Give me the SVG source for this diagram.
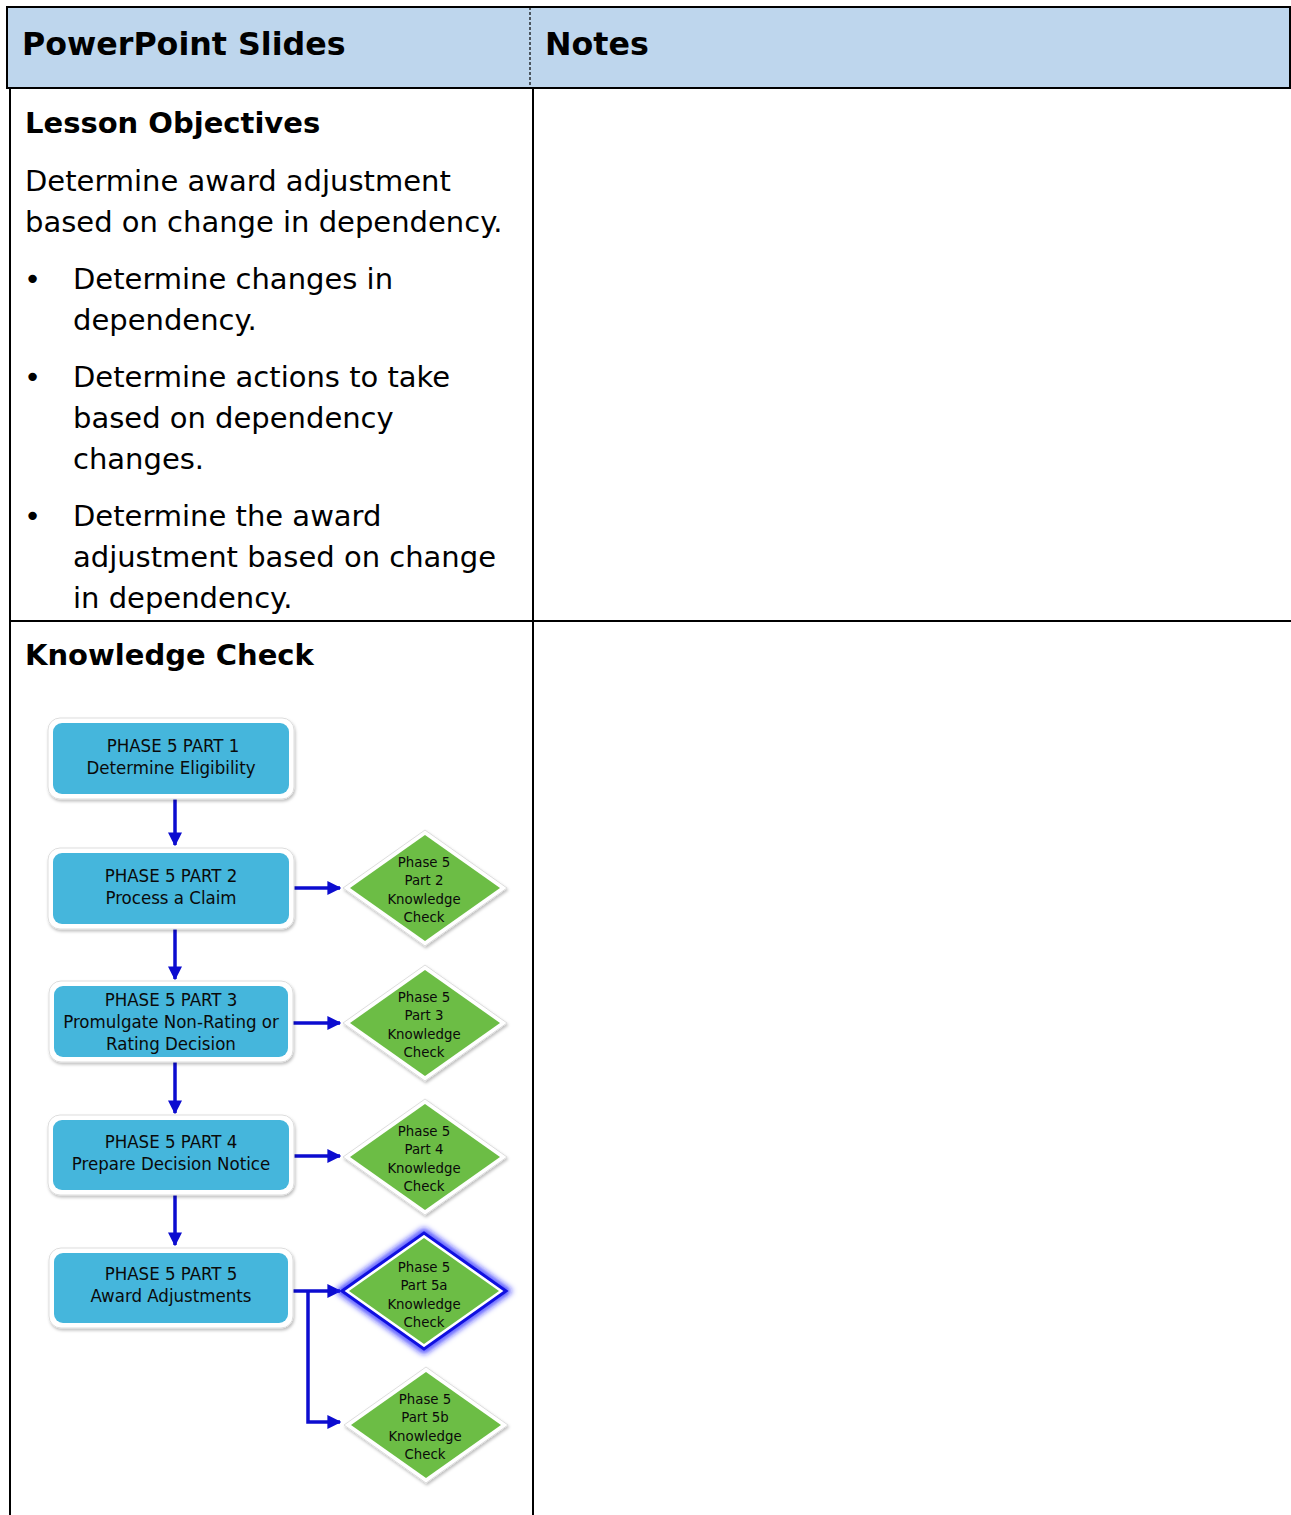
<svg xmlns="http://www.w3.org/2000/svg" width="1291" height="1515" viewBox="0 0 1291 1515">
<style>
.hd{font-family:"DejaVu Sans",Verdana,sans-serif;font-weight:bold;font-size:31.7px;fill:#000}
.bh{font-family:"DejaVu Sans",Verdana,sans-serif;font-weight:bold;font-size:29px;fill:#000}
.bt{font-family:"DejaVu Sans",Verdana,sans-serif;font-size:29px;fill:#000}
.bx{font-family:"DejaVu Sans Condensed","DejaVu Sans",sans-serif;font-size:18.5px;fill:#0a0a0a;text-anchor:middle}
.dm{font-family:"DejaVu Sans Condensed","DejaVu Sans",sans-serif;font-size:14.8px;fill:#0a0a0a;text-anchor:middle}
.tl{stroke:#000;stroke-width:2;fill:none}
.outer{fill:#fff;stroke:#ddd;stroke-width:1}
.blue{fill:#45b6dc}
.green{fill:#6cbd45}
.con{stroke:#0c0cd0;stroke-width:3.5;fill:none}
</style>
<defs>
<marker id="ah" viewBox="0 0 10 10" refX="9" refY="5" markerWidth="4" markerHeight="4" orient="auto" markerUnits="strokeWidth">
<path d="M0,0 L10,5 L0,10 z" fill="#0c0cd0"/>
</marker>
<filter id="sh" x="-10%" y="-10%" width="125%" height="130%">
<feDropShadow dx="1" dy="2" stdDeviation="1.5" flood-color="#000" flood-opacity="0.25"/>
</filter>
<filter id="glow" x="-20%" y="-20%" width="140%" height="140%">
<feGaussianBlur stdDeviation="3"/>
</filter>
</defs>
<rect width="1291" height="1515" fill="#fff"/>
<g id="table">
<rect x="7" y="7" width="1283" height="81" fill="#bed6ed" stroke="#000" stroke-width="2"/>
<line x1="530" y1="7" x2="530" y2="88" stroke="#000" stroke-width="1.2" stroke-dasharray="3,2"/>
<line class="tl" x1="10" y1="88" x2="10" y2="1515"/>
<line class="tl" x1="533" y1="88" x2="533" y2="1515"/>
<line class="tl" x1="10" y1="621" x2="1291" y2="621"/>
<text class="hd" x="22" y="55">PowerPoint Slides</text>
<text class="hd" x="545" y="55">Notes</text>
</g>
<g id="objectives">
<text class="bh" x="25" y="133">Lesson Objectives</text>
<text class="bt" x="25" y="191">Determine award adjustment</text>
<text class="bt" x="25" y="232">based on change in dependency.</text>
<text class="bt" x="24" y="289">•</text>
<text class="bt" x="73" y="289">Determine changes in</text>
<text class="bt" x="73" y="330">dependency.</text>
<text class="bt" x="24" y="387">•</text>
<text class="bt" x="73" y="387">Determine actions to take</text>
<text class="bt" x="73" y="428">based on dependency</text>
<text class="bt" x="73" y="469">changes.</text>
<text class="bt" x="24" y="526">•</text>
<text class="bt" x="73" y="526">Determine the award</text>
<text class="bt" x="73" y="567">adjustment based on change</text>
<text class="bt" x="73" y="608">in dependency.</text>
<text class="bh" x="25" y="665">Knowledge Check</text>
</g>
<g id="connectors">
<line class="con" x1="175" y1="799" x2="175" y2="845" marker-end="url(#ah)"/>
<line class="con" x1="294" y1="888" x2="340" y2="888" marker-end="url(#ah)"/>
<line class="con" x1="175" y1="928" x2="175" y2="979" marker-end="url(#ah)"/>
<line class="con" x1="292" y1="1023" x2="340" y2="1023" marker-end="url(#ah)"/>
<line class="con" x1="175" y1="1062" x2="175" y2="1113" marker-end="url(#ah)"/>
<line class="con" x1="294" y1="1156" x2="340" y2="1156" marker-end="url(#ah)"/>
<line class="con" x1="175" y1="1195" x2="175" y2="1245" marker-end="url(#ah)"/>
<line class="con" x1="292" y1="1291" x2="340" y2="1291" marker-end="url(#ah)"/>
<polyline class="con" points="308,1291 308,1422 340,1422" marker-end="url(#ah)"/>
</g>
<g id="p1">
<rect class="outer" x="48" y="718" width="246" height="81" rx="12" filter="url(#sh)"/>
<rect class="blue" x="53" y="723" width="236" height="71" rx="9"/>
<text class="bx" x="173" y="752">PHASE 5 PART 1</text>
<text class="bx" x="171" y="774">Determine Eligibility</text>
</g>
<g id="p2">
<rect class="outer" x="48" y="848" width="246" height="81" rx="12" filter="url(#sh)"/>
<rect class="blue" x="53" y="853" width="236" height="71" rx="9"/>
<text class="bx" x="171" y="882">PHASE 5 PART 2</text>
<text class="bx" x="171" y="904">Process a Claim</text>
</g>
<g id="p3">
<rect class="outer" x="49" y="981" width="244" height="81" rx="12" filter="url(#sh)"/>
<rect class="blue" x="54" y="986" width="234" height="71" rx="9"/>
<text class="bx" x="171" y="1006">PHASE 5 PART 3</text>
<text class="bx" x="171" y="1028">Promulgate Non-Rating or</text>
<text class="bx" x="171" y="1050">Rating Decision</text>
</g>
<g id="p4">
<rect class="outer" x="48" y="1115" width="246" height="80" rx="12" filter="url(#sh)"/>
<rect class="blue" x="53" y="1120" width="236" height="70" rx="9"/>
<text class="bx" x="171" y="1148">PHASE 5 PART 4</text>
<text class="bx" x="171" y="1170">Prepare Decision Notice</text>
</g>
<g id="p5">
<rect class="outer" x="49" y="1248" width="244" height="80" rx="12" filter="url(#sh)"/>
<rect class="blue" x="54" y="1253" width="234" height="70" rx="9"/>
<text class="bx" x="171" y="1280">PHASE 5 PART 5</text>
<text class="bx" x="171" y="1302">Award Adjustments</text>
</g>
<g id="kc2">
<path class="outer" d="M343,888 L425,830 L507,888 L425,946 Z" filter="url(#sh)"/>
<path class="green" d="M350,888 L425,835 L500,888 L425,941 Z"/>
<text class="dm" x="424" y="867">Phase 5</text>
<text class="dm" x="424" y="885">Part 2</text>
<text class="dm" x="424" y="904">Knowledge</text>
<text class="dm" x="424" y="922">Check</text>
</g>
<g id="kc3">
<path class="outer" d="M343,1023 L425,965 L507,1023 L425,1081 Z" filter="url(#sh)"/>
<path class="green" d="M350,1023 L425,970 L500,1023 L425,1076 Z"/>
<text class="dm" x="424" y="1002">Phase 5</text>
<text class="dm" x="424" y="1020">Part 3</text>
<text class="dm" x="424" y="1039">Knowledge</text>
<text class="dm" x="424" y="1057">Check</text>
</g>
<g id="kc4">
<path class="outer" d="M343,1157 L425,1099 L507,1157 L425,1215 Z" filter="url(#sh)"/>
<path class="green" d="M350,1157 L425,1104 L500,1157 L425,1210 Z"/>
<text class="dm" x="424" y="1136">Phase 5</text>
<text class="dm" x="424" y="1154">Part 4</text>
<text class="dm" x="424" y="1173">Knowledge</text>
<text class="dm" x="424" y="1191">Check</text>
</g>
<g id="kc5a">
<path d="M341,1291 L424,1232 L507,1291 L424,1350 Z" fill="none" stroke="#1a1aff" stroke-width="6" filter="url(#glow)"/>
<path d="M342,1291 L424,1233 L506,1291 L424,1349 Z" fill="#fff" stroke="#1010e0" stroke-width="3"/>
<path class="green" d="M349,1291 L424,1238 L499,1291 L424,1344 Z"/>
<text class="dm" x="424" y="1272">Phase 5</text>
<text class="dm" x="424" y="1290">Part 5a</text>
<text class="dm" x="424" y="1309">Knowledge</text>
<text class="dm" x="424" y="1327">Check</text>
</g>
<g id="kc5b">
<path class="outer" d="M344,1425 L426,1367 L508,1425 L426,1483 Z" filter="url(#sh)"/>
<path class="green" d="M351,1425 L426,1372 L501,1425 L426,1478 Z"/>
<text class="dm" x="425" y="1404">Phase 5</text>
<text class="dm" x="425" y="1422">Part 5b</text>
<text class="dm" x="425" y="1441">Knowledge</text>
<text class="dm" x="425" y="1459">Check</text>
</g>
</svg>
